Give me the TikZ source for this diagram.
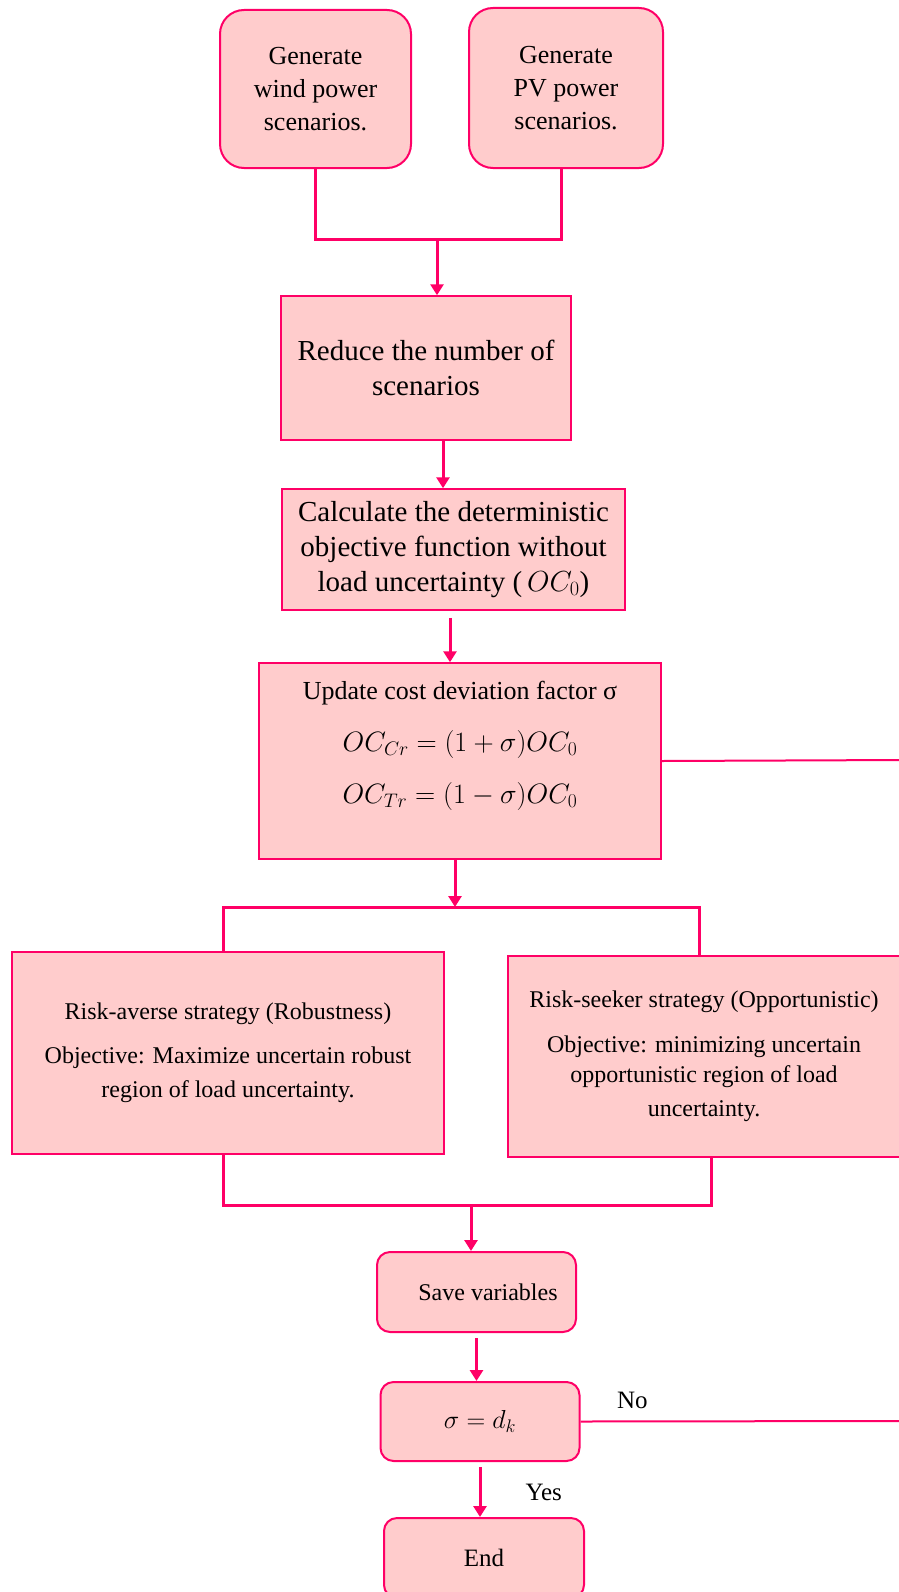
\RequirePackage{fix-cm}
\documentclass[tikz,border=0pt]{standalone}
\usepackage{fontspec}
\setmainfont{Liberation Serif}
\usepackage{amsmath}
\usepackage{xcolor}
\usetikzlibrary{arrows.meta}
\definecolor{flowline}{HTML}{FF0066}
\definecolor{flowfill}{HTML}{FFCCCC}

\begin{document}
\begin{tikzpicture}[
    x=1pt, y=-1pt,
    every node/.style={inner sep=0pt},
    genbox/.style={rectangle, draw=flowline, line width=2pt, rounded corners=24pt, fill=flowfill, align=center, font=\fontsize{26}{33}\selectfont},
    stepbox/.style={rectangle, draw=flowline, line width=1.5pt, fill=flowfill, align=center, font=\fontsize{29}{35}\selectfont},
    smallbox/.style={rectangle, draw=flowline, line width=2pt, rounded corners=13pt, fill=flowfill, align=center, minimum width=199pt, minimum height=79pt, font=\fontsize{24}{30}\selectfont},
    line/.style={draw=flowline, line width=3pt},
    arrow/.style={line, -{Triangle[width=13pt,length=11pt]}},
    loop/.style={draw=flowline, line width=2pt},
    tag/.style={font=\fontsize{25}{30}\selectfont}
]
    \useasboundingbox (0,0) rectangle (899,1592);
    \clip (0,0) rectangle (899,1592);

    \node[genbox, minimum width=191pt, minimum height=158pt] (wind) at (315.5,89) {Generate\\wind power\\scenarios.};
    \node[genbox, minimum width=194pt, minimum height=160pt] (pv) at (566,88) {Generate\\PV power\\scenarios.};
    \node[stepbox, minimum width=290pt, minimum height=144pt] (reduce) at (426,368) {Reduce the number of\\scenarios};
    \node[stepbox, minimum width=343pt, minimum height=121pt] (calc) at (453.5,549.5) {Calculate the deterministic\\objective function without\\load uncertainty (\,$OC_0$)};
    \node[stepbox, minimum width=402pt, minimum height=196pt, text depth=38pt, font=\fontsize{28}{52}\selectfont] (update) at (460,761)
        {{\fontsize{26}{52}\selectfont Update cost deviation factor σ}\\$OC_{Cr} = (1+\sigma)OC_0$\\$OC_{Tr} = (1-\sigma)OC_0$};
    \node[stepbox, minimum width=432pt, minimum height=202pt, font=\fontsize{24}{34}\selectfont] (averse) at (228,1053)
        {Risk-averse strategy (Robustness)\\[10pt]Objective: Maximize uncertain robust\\region of load uncertainty.};
    \node[stepbox, line width=2pt, minimum width=392pt, minimum height=201pt, font=\fontsize{24}{30}\selectfont] (seeker) at (704,1056.5)
        {Risk-seeker strategy (Opportunistic)\\[15pt]Objective: minimizing uncertain\\opportunistic region of load\\[4pt]uncertainty.};
    \node[smallbox, minimum height=80pt] (save) at (476.5,1292) {\hspace*{23pt}Save variables};
    \node[smallbox, font=\fontsize{26}{30}\selectfont] (sigma) at (480,1421.5) {$\sigma = d_k$};
    \node[smallbox, minimum width=200pt, minimum height=80pt, font=\fontsize{25}{30}\selectfont] (stop) at (484,1558) {End};

    \coordinate (join) at (437,239);
    \coordinate (split) at (455,907);
    \coordinate (merge) at (471,1205);
    \coordinate (loopA) at (905,760);
    \coordinate (loopB) at (905,1421);

    \draw[line] (wind.south) |- (join) -| ([xshift=-5pt]pv.south);
    \draw[arrow] (join) -- (join |- reduce.north);
    \draw[arrow] ([xshift=17pt]reduce.south) -- ([xshift=17pt]reduce.south |- calc.north);
    \draw[arrow] ([xshift=-3.5pt,yshift=-7pt]calc.south) -- ([xshift=-3.5pt]calc.south |- update.north);
    \draw[arrow] (update.south -| split) -- (split);
    \draw[line] ([xshift=-5pt]averse.north) |- (split) -| ([xshift=-5pt]seeker.north);
    \draw[line] ([xshift=-5pt]averse.south) |- (merge) -| ([xshift=7pt]seeker.south);
    \draw[arrow] (merge) -- (merge |- save.north);
    \draw[arrow] ([yshift=-5pt]save.south) -- (save.south |- sigma.north);
    \draw[arrow] ([yshift=-5pt]sigma.south) -- (sigma.south |- stop.north) node[tag, midway, right=44pt] {Yes};
    \draw[loop] (update.east) -- (loopA);
    \draw[loop] (sigma.east) -- (loopB) node[tag, pos=0.16, above=12pt] {No};
\end{tikzpicture}
\end{document}
